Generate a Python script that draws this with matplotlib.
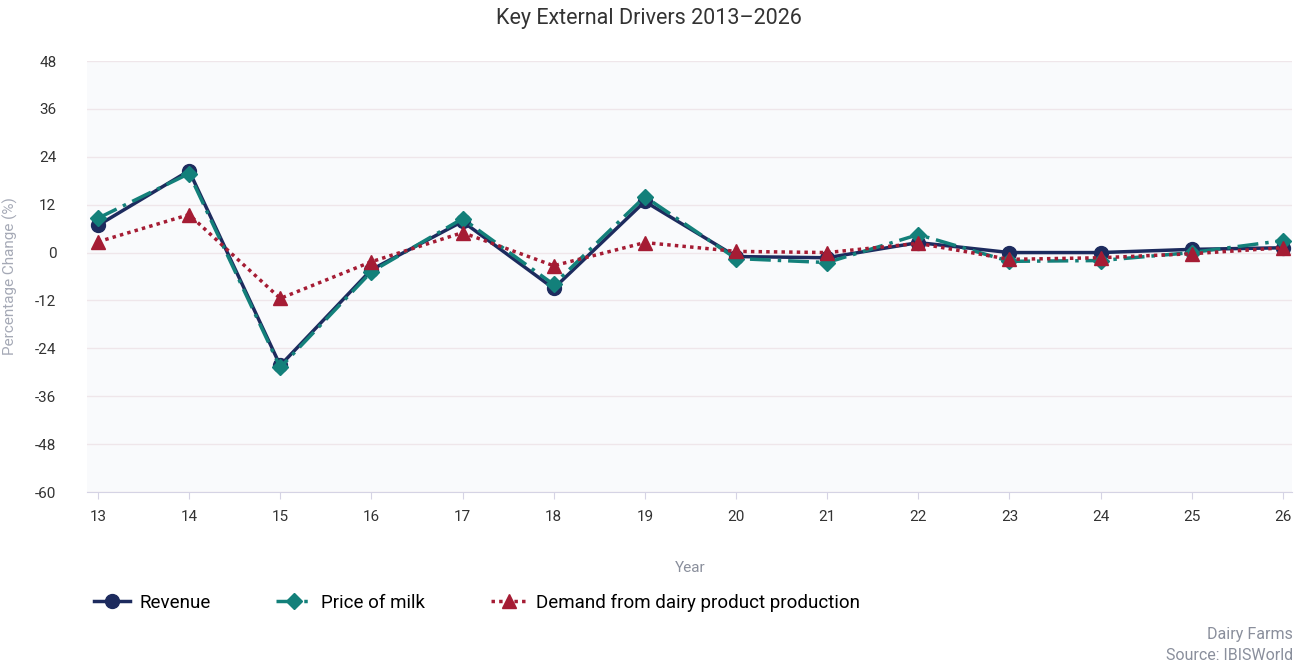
import numpy as np
import matplotlib.pyplot as plt

plt.rcParams['font.family'] = ['Roboto', 'DejaVu Sans']
plt.rcParams['axes.unicode_minus'] = False

years = [13, 14, 15, 16, 17, 18, 19, 20, 21, 22, 23, 24, 25, 26]
revenue = [6.8, 20.5, -28.3, -4.3, 7.8, -9.0, 12.8, -1.0, -1.3, 2.5, 0.0, 0.0, 0.8, 1.2]
milk_price = [8.6, 19.8, -28.8, -4.8, 8.5, -8.0, 14.0, -1.5, -2.5, 4.5, -2.2, -2.0, 0.0, 3.0]
dairy_demand = [2.7, 9.5, -11.5, -2.3, 5.0, -3.3, 2.5, 0.3, 0.0, 2.3, -1.7, -1.3, -0.3, 1.2]
yticks = [48, 36, 24, 12, 0, -12, -24, -36, -48, -60]

navy = '#1d2b5e'
teal = '#13807a'
crimson = '#a51c34'
grey = '#8a8f9c'

fig = plt.figure(figsize=(12.98, 6.65), dpi=100)
ax = fig.add_axes([87/1298, 1 - 492/665, (1292-87)/1298, (492-61)/665])
ax.set_facecolor('#f9fafc')

ax.plot(years, revenue, color=navy, lw=2.5, marker='o', ms=10, label='Revenue', zorder=3)
ax.plot(years, milk_price, color=teal, lw=2.5, ls=(0, (6, 2, 1, 2)), marker='D', ms=8,
        label='Price of milk', zorder=4)
ax.plot(years, dairy_demand, color=crimson, lw=2.5, ls=(0, (1, 1.2)), marker='^', ms=10,
        label='Demand from dairy product production', zorder=5)

ax.set_xlim(12.88, 26.1)
ax.set_ylim(-60, 48)
ax.set_xticks(years)
ax.set_yticks(yticks)
ax.grid(axis='y', color='#efe6ea', lw=1)
ax.set_axisbelow(True)
for s in ['top', 'right', 'left']:
    ax.spines[s].set_visible(False)
ax.spines['bottom'].set_color('#d5d3e4')
ax.tick_params(axis='y', length=0, labelsize=11, colors='#333333', pad=22)
ax.tick_params(axis='x', length=5, color='#d5d3e4', labelsize=11, colors='#333333', pad=8)

ax.set_xlabel('Year', color=grey, fontsize=11)
ax.xaxis.set_label_coords((690 - 87) / 1205, -(561 - 492) / 431)
ax.set_ylabel('Percentage Change (%)', color='#a5a9b6', fontsize=11)
ax.yaxis.set_label_coords((18 - 87) / 1205, 0.5)
fig.suptitle('Key External Drivers 2013\u20132026', y=0.988, fontsize=15.5, color='#333333')

ax.legend(loc='upper left', bbox_to_anchor=(-0.008, -0.197), ncol=3, frameon=False,
          fontsize=13.5, handlelength=1.9, columnspacing=3.5, handletextpad=0.5)

fig.text(0.996, 1 - 634/665, 'Dairy Farms', ha='right', va='center', fontsize=11.5, color=grey)
fig.text(0.996, 1 - 655/665, 'Source: IBISWorld', ha='right', va='center', fontsize=11.5, color=grey)

fig.savefig('out.png', dpi=100, facecolor='white')
